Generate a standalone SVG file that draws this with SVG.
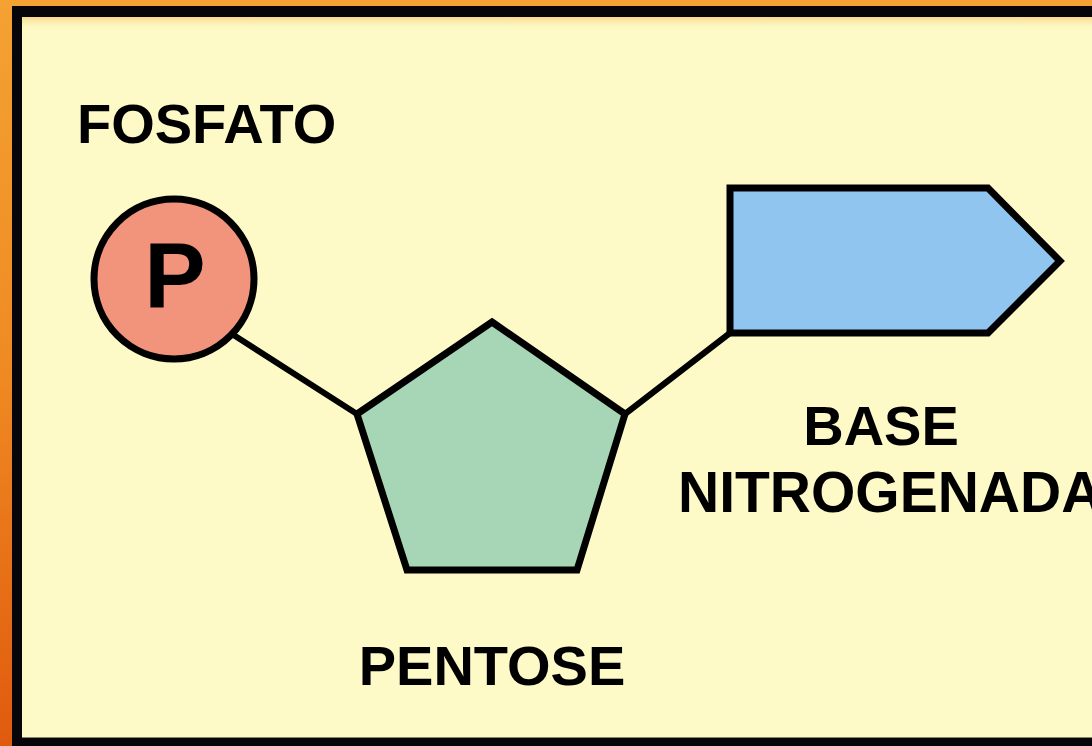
<svg xmlns="http://www.w3.org/2000/svg" width="1092" height="746" viewBox="0 0 1092 746">
  <defs>
    <linearGradient id="frameOrange" x1="0" y1="0" x2="0" y2="1">
      <stop offset="0" stop-color="#f4a232"/>
      <stop offset="0.5" stop-color="#ef8a22"/>
      <stop offset="1" stop-color="#e05a0e"/>
    </linearGradient>
    <linearGradient id="topGlow" x1="0" y1="0" x2="0" y2="1">
      <stop offset="0" stop-color="#f8d98a"/>
      <stop offset="1" stop-color="#fdfac8" stop-opacity="0"/>
    </linearGradient>
    <style>
      .label { font-family: "Liberation Sans", Arial, sans-serif; font-weight: bold; fill: #000; }
      .shape { stroke: #000; stroke-width: 7; stroke-linejoin: miter; }
      .bond { stroke: #000; stroke-width: 6; stroke-linecap: round; fill: none; }
    </style>
  </defs>

  <!-- background frame -->
  <rect x="0" y="0" width="1092" height="746" fill="url(#frameOrange)"/>
  <rect x="12" y="6" width="1080" height="740" fill="#05050a"/>
  <rect x="22" y="17" width="1070" height="721" fill="#fdfac8"/>
  <rect x="22" y="17" width="1070" height="14" fill="url(#topGlow)"/>
  <line x1="22" y1="737.5" x2="1092" y2="737.5" stroke="#8a8468" stroke-width="1"/>

  <!-- connectors -->
  <g id="connectors">
    <line class="bond" x1="232" y1="334" x2="357" y2="414"/>
    <line class="bond" x1="625" y1="414" x2="730" y2="333"/>
  </g>

  <!-- phosphate -->
  <g id="fosfato">
    <text class="label" x="77" y="143" font-size="56">FOSFATO</text>
    <circle class="shape" cx="174" cy="279" r="80" fill="#f2937c"/>
    <text class="label" x="175" y="308" font-size="92" text-anchor="middle">P</text>
  </g>

  <!-- pentose sugar -->
  <g id="pentose">
    <polygon class="shape" points="492,322 625,414 577,570 407,570 357,414" fill="#a6d6b6"/>
    <text class="label" x="492" y="685" font-size="56" text-anchor="middle">PENTOSE</text>
  </g>

  <!-- nitrogenous base -->
  <g id="base">
    <polygon class="shape" points="730,188 988,188 1060,261 988,333 730,333" fill="#8fc5ee"/>
    <text class="label" x="881" y="445" font-size="56" text-anchor="middle">BASE</text>
    <text class="label" x="678" y="512" font-size="57">NITROGENADA</text>
  </g>
</svg>
